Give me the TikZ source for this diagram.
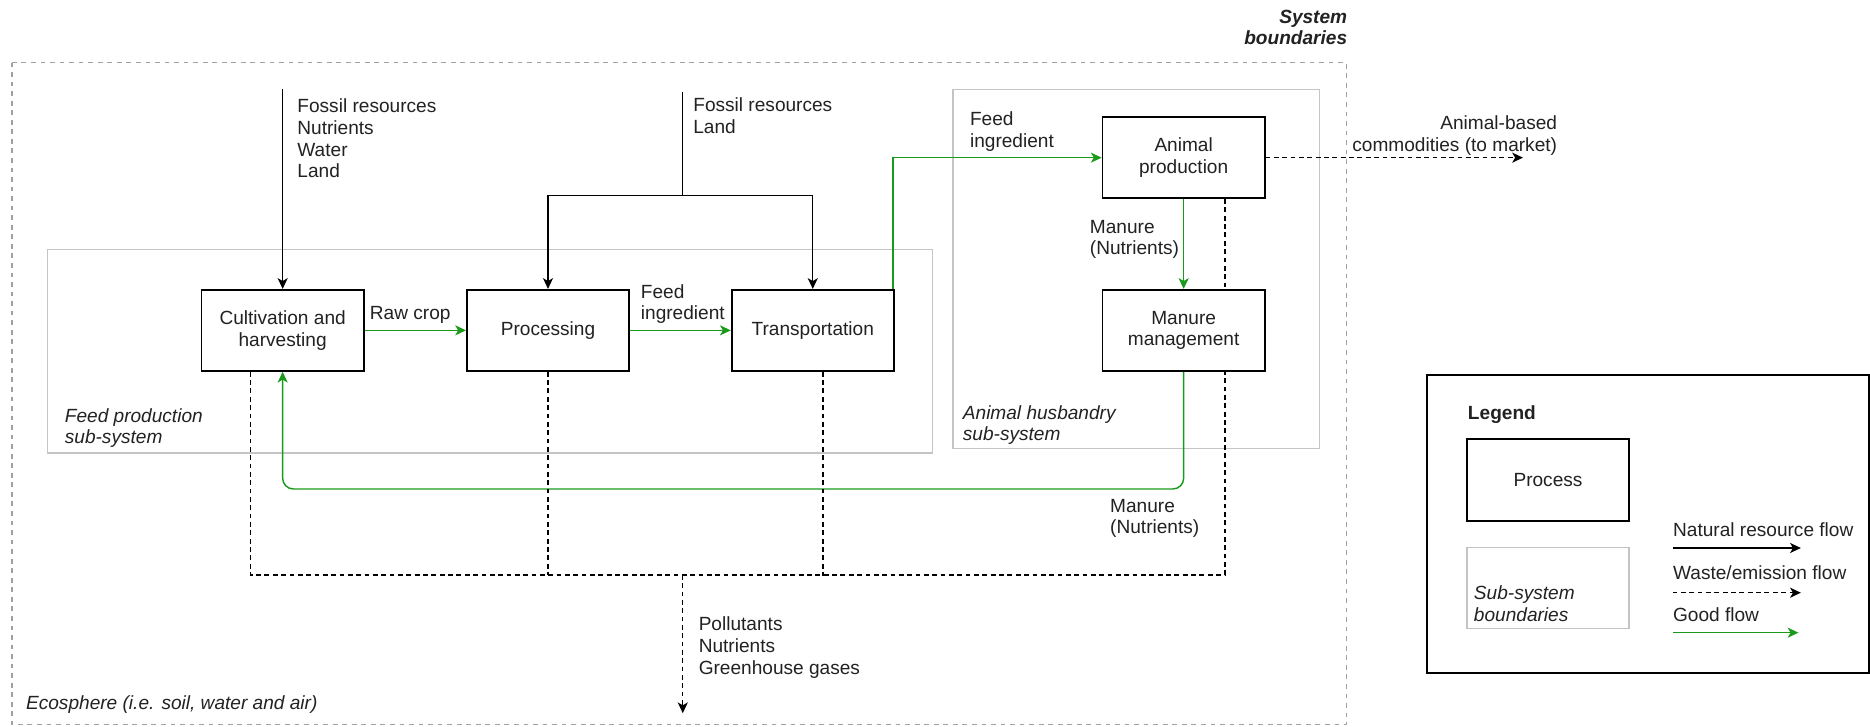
\documentclass[tikz,border=0pt]{standalone}
\usepackage{fontspec}
\setmainfont{Liberation Sans}
\usetikzlibrary{arrows.meta,calc}
\definecolor{txt}{HTML}{222222}
\definecolor{gflow}{HTML}{1A9A1A}
\definecolor{subg}{HTML}{C4C4C4}
\definecolor{sysg}{HTML}{A0A0A0}
\newcommand\lblfont{\fontsize{8pt}{9.1pt}\selectfont}
\begin{document}
\begin{tikzpicture}[x=0.5pt,y=-0.5pt,
  proc/.style={draw=black, line width=0.75pt, fill=white, minimum width=68pt, minimum height=34pt, inner sep=0, align=center, font=\lblfont, text=txt},
  lbl/.style={inner sep=0, align=left, font=\lblfont, text=txt},
  tip/.style={-{Stealth[length=4.5pt,width=4.2pt,inset=1.2pt]}},
  nat/.style={draw=black, line width=0.6pt},
  waste/.style={draw=black, line width=0.6pt, dash pattern=on 2pt off 1.5pt},
  good/.style={draw=gflow, line width=0.6pt},
  subsys/.style={draw=subg, line width=0.6pt},
  sysb/.style={draw=sysg, line width=0.6pt, dash pattern=on 2pt off 2pt}
]
\useasboundingbox (0,0) rectangle (1568,609);

% boundaries
\draw[sysb] (10,52.5) rectangle (1129,607.5);
\draw[subsys] (40,209) rectangle (782,380);
\draw[subsys] (799,75) rectangle (1106.5,376);

% labels (anchor base = baseline of the LAST line)
\node[lbl, anchor=base east, align=right, font=\lblfont\bfseries\itshape] (sysl) at (1130,37.7) {System\\boundaries};
\node[lbl, anchor=base west, font=\lblfont\itshape] (fpl) at (54,372.2) {Feed production\\sub-system};
\node[lbl, anchor=base west, font=\lblfont\itshape] (ahl) at (807,369.7) {Animal husbandry\\sub-system};
\node[lbl, anchor=base west, font=\lblfont\itshape] (eco) at (21.5,595) {Ecosphere (i.e. soil, water and air)};

% processes
\node[proc] (cult) at (237,277) {Cultivation and\\harvesting};
\node[proc] (proc) at (459.5,277) {Processing};
\node[proc] (trans) at (681.5,277) {Transportation};
\node[proc] (anim) at (992.5,132.2) {Animal\\production};
\node[proc] (man) at (992.5,277) {Manure\\management};

% natural resource inputs
\coordinate (in1) at (237,75);
\coordinate (in2) at (572.5,77);
\coordinate (j2) at (572.5,164);
\draw[nat,tip] (in1) -- (cult.north);
\draw[nat] (in2) -- (j2);
\draw[nat,tip] (j2) -| (proc.north);
\draw[nat,tip] (j2) -| (trans.north);
\node[lbl, anchor=base west] (in1l) at (249,149.1) {Fossil resources\\Nutrients\\Water\\Land};
\node[lbl, anchor=base west] (in2l) at (581,111.7) {Fossil resources\\Land};

% good flows
\draw[good,tip] (cult) -- (proc);
\node[lbl, anchor=base] (rawl) at (344,268) {Raw crop};
\draw[good,tip] (proc) -- (trans);
\node[lbl, anchor=base west] (fi1) at (537,268.2) {Feed\\ingredient};
\draw[good,tip] ($(trans.north east)+(-1.5,0)$) |- (anim.west);
\node[lbl, anchor=base west] (fi2) at (813,123.7) {Feed\\ingredient};
\draw[good,tip] (anim) -- (man);
\node[lbl, anchor=base west] (mn1) at (913.5,213.7) {Manure\\(Nutrients)};
\coordinate (gline) at (0,410);
\draw[good,tip,rounded corners=4.5pt] (man.south) -- (man.south |- gline) -| (cult.south);
\node[lbl, anchor=base west] (mn2) at (930.5,447.7) {Manure\\(Nutrients)};

% waste flows
\coordinate (wL) at (210,482);
\coordinate (wR) at (1027,482);
\coordinate (wd) at (572.5,482);
\coordinate (wend) at (572.5,598);
\draw[waste] ($(cult.south)+(-27,0)$) -- (wL) -- (wR) -- ($(man.south)+(34.5,0)$);
\draw[waste] ($(anim.south)+(34.5,0)$) -- ($(man.north)+(34.5,0)$);
\draw[waste] (proc.south) -- (proc.south |- wL);
\draw[waste] ($(trans.south)+(8.5,0)$) -- ($(trans.south)+(8.5,171)$);
\draw[waste,tip] (wd) -- (wend);
\node[lbl, anchor=base west] (poll) at (585.5,565.4) {Pollutants\\Nutrients\\Greenhouse gases};
\coordinate (market) at (1277,132.2);
\draw[waste,tip] (anim.east) -- (market);
\node[lbl, anchor=base east, align=right] (mkl) at (1306,126.7) {Animal-based\\commodities (to market)};

% legend
\draw[line width=0.75pt] (1196.5,314.5) rectangle (1567.3,564.5);
\node[lbl, anchor=base west, font=\lblfont\bfseries] (leg) at (1230.5,352) {Legend};
\node[proc, minimum height=34.3pt] (lproc) at (1298,402.3) {Process};
\node[draw=subg, line width=0.6pt, minimum width=68pt, minimum height=34pt, inner sep=0] (lsub) at (1298,493) {};
\node[lbl, anchor=base west, font=\lblfont\itshape] (lsubl) at (1235.5,521) {Sub-system\\boundaries};
\coordinate (la1) at (1402.5,459.5); \coordinate (lb1) at (1510,459.5);
\coordinate (la2) at (1402.5,497); \coordinate (lb2) at (1510,497);
\coordinate (la3) at (1402.5,530.5); \coordinate (lb3) at (1508,530.5);
\draw[nat,tip] (la1) -- (lb1);
\draw[waste,tip] (la2) -- (lb2);
\draw[good,tip] (la3) -- (lb3);
\node[lbl, anchor=base west] (l1) at (1402.5,450) {Natural resource flow};
\node[lbl, anchor=base west] (l2) at (1402.5,485.5) {Waste/emission flow};
\node[lbl, anchor=base west] (l3) at (1402.5,521) {Good flow};
\end{tikzpicture}
\end{document}
